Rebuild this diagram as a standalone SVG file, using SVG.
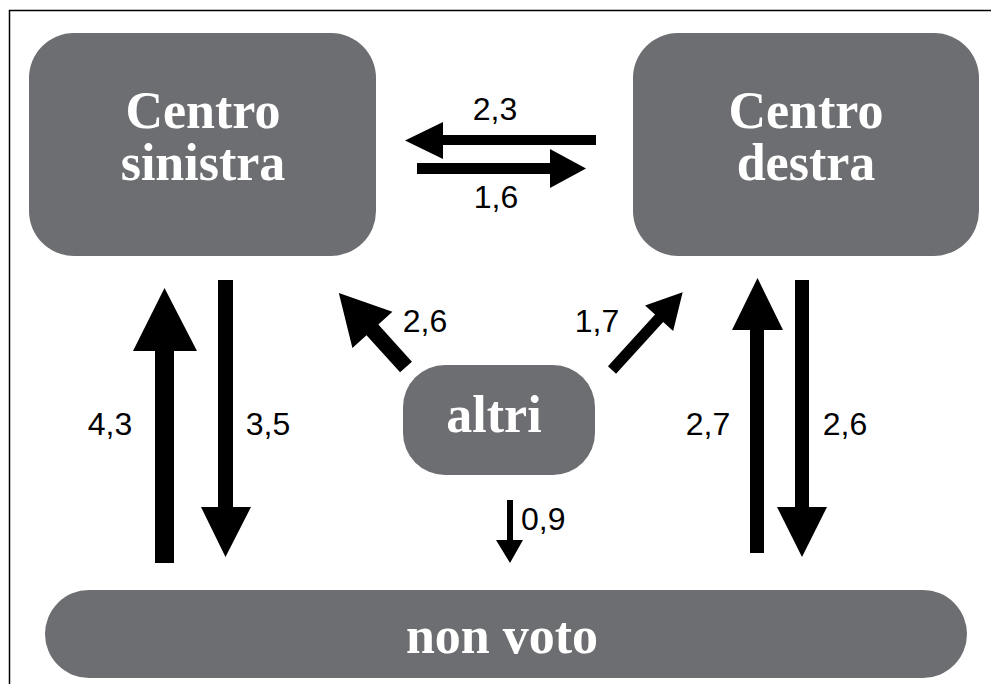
<svg xmlns="http://www.w3.org/2000/svg" width="991" height="684" viewBox="0 0 991 684">
<style>
.box{fill:#6d6e71}
.nt{font-family:"Liberation Serif","DejaVu Serif",serif;font-weight:bold;font-size:52px;fill:#ffffff;text-anchor:middle}
.lb{font-family:"Liberation Sans",Arial,sans-serif;font-size:32px;fill:#000000;text-anchor:middle}
.ar{fill:#000000}
</style>
<rect x="0" y="0" width="991" height="684" fill="#ffffff"/>
<path d="M9.5 684 V10.5 H991" fill="none" stroke="#000000" stroke-width="1.5"/>
<g id="centro-sinistra">
<rect class="box" x="29" y="33" width="347" height="223" rx="45" ry="45"/>
<text class="nt" x="203" y="128">Centro</text>
<text class="nt" x="203" y="180">sinistra</text>
</g>
<g id="centro-destra">
<rect class="box" x="633" y="33" width="346" height="223" rx="45" ry="45"/>
<text class="nt" x="806" y="128">Centro</text>
<text class="nt" x="806" y="180">destra</text>
</g>
<g id="altri">
<rect class="box" x="403" y="365" width="192" height="110" rx="42" ry="42"/>
<text class="nt" x="494" y="432">altri</text>
</g>
<g id="non-voto">
<rect class="box" x="45" y="590" width="922" height="88" rx="44" ry="44"/>
<text class="nt" x="502" y="653">non voto</text>
</g>
<g id="connectors">
<polygon class="ar" points="596,135 443,135 443,122 405,140.5 443,159 443,145 596,145"/>
<polygon class="ar" points="417,163 550,163 550,149 586,168.5 550,188 550,174 417,174"/>
<polygon class="ar" points="155,563 155,351 133,351 164.5,288 197,351 174,351 174,563"/>
<polygon class="ar" points="218,280 233,280 233,507 251,507 225.5,557 201,507 218,507"/>
<polygon class="ar" points="750,553 750,330 732,330 757.5,278 783,330 764,330 764,553"/>
<polygon class="ar" points="795,280 809,280 809,507 827,507 802,557 777,507 795,507"/>
<polygon class="ar" points="507,500 513,500 513,540 523,540 510,563 496,540 507,540"/>
<polygon class="ar" transform="translate(406,367) rotate(227.8)" points="0,-8 50,-8 50,-27 100,0 50,27 50,8 0,8"/>
<polygon class="ar" transform="translate(612,370) rotate(-47.7)" points="0,-5.5 70,-5.5 70,-19 105,0 70,19 70,5.5 0,5.5"/>
<text class="lb" x="495" y="120">2,3</text>
<text class="lb" x="496" y="208">1,6</text>
<text class="lb" x="425" y="332">2,6</text>
<text class="lb" x="597" y="332">1,7</text>
<text class="lb" x="110" y="435">4,3</text>
<text class="lb" x="268" y="435">3,5</text>
<text class="lb" x="708" y="435">2,7</text>
<text class="lb" x="845" y="435">2,6</text>
<text class="lb" x="521" y="530" text-anchor="start" style="text-anchor:start">0,9</text>
</g>
</svg>
